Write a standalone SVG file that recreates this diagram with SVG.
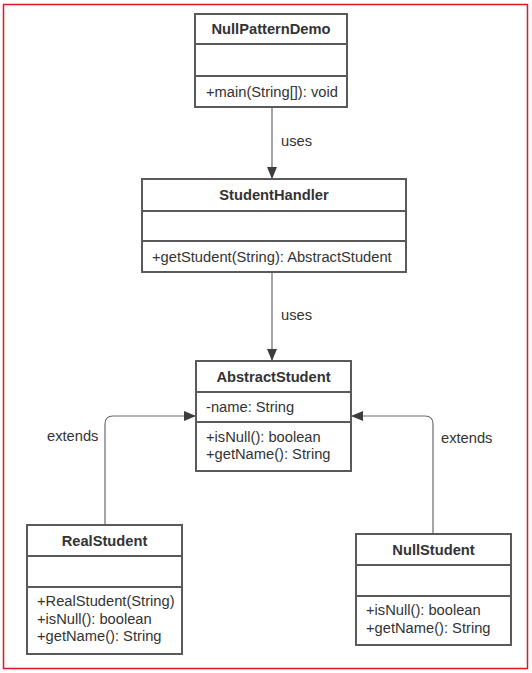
<svg xmlns="http://www.w3.org/2000/svg" width="532" height="673" viewBox="0 0 532 673">
<defs>
<marker id="arr" markerWidth="13" markerHeight="10" refX="12" refY="5" orient="auto" markerUnits="userSpaceOnUse">
<path d="M0,0 L12,5 L0,10 Z" fill="#3d3d3d"/>
</marker>
<style>
.box{fill:#fff;stroke:#5a5a5a;stroke-width:2}
.div{stroke:#5a5a5a;stroke-width:2}
text{font-family:"Liberation Sans",Arial,sans-serif;font-size:14.7px;fill:#333}
.t{font-weight:bold;text-anchor:middle}
.c{fill:none;stroke:#6a6a6a;stroke-width:1.2}
</style>
</defs>
<rect x="3.5" y="4.5" width="524" height="664" fill="#fff" stroke="#e8141b" stroke-width="1.5"/>
<g id="connectors">
<line class="c" x1="272" y1="107" x2="272" y2="179" marker-end="url(#arr)"/>
<line class="c" x1="272" y1="272" x2="272" y2="361" marker-end="url(#arr)"/>
<path class="c" d="M105,525 V424 Q105,416 113,416 H196" marker-end="url(#arr)"/>
<path class="c" d="M433,534 V424 Q433,416 425,416 H351" marker-end="url(#arr)"/>
<text x="281" y="146" fill="#222">uses</text>
<text x="281" y="320" fill="#222">uses</text>
<text x="47" y="441" fill="#222">extends</text>
<text x="441" y="443" fill="#222">extends</text>
</g>
<g id="NullPatternDemo">
<rect class="box" x="195" y="14" width="152" height="93"/>
<line class="div" x1="195" y1="44" x2="347" y2="44"/>
<line class="div" x1="195" y1="76" x2="347" y2="76"/>
<text class="t" x="271" y="34">NullPatternDemo</text>
<text x="206" y="97">+main(String[]): void</text>
</g>
<g id="StudentHandler">
<rect class="box" x="142" y="179" width="264" height="93"/>
<line class="div" x1="142" y1="211" x2="406" y2="211"/>
<line class="div" x1="142" y1="241" x2="406" y2="241"/>
<text class="t" x="274" y="200">StudentHandler</text>
<text x="152" y="262">+getStudent(String): AbstractStudent</text>
</g>
<g id="AbstractStudent">
<rect class="box" x="196" y="361" width="155" height="110"/>
<line class="div" x1="196" y1="392" x2="351" y2="392"/>
<line class="div" x1="196" y1="422" x2="351" y2="422"/>
<text class="t" x="273.5" y="382">AbstractStudent</text>
<text x="206" y="412">-name: String</text>
<text x="206" y="442">+isNull(): boolean</text>
<text x="206" y="459">+getName(): String</text>
</g>
<g id="RealStudent">
<rect class="box" x="27" y="525" width="155" height="129"/>
<line class="div" x1="27" y1="556" x2="182" y2="556"/>
<line class="div" x1="27" y1="587" x2="182" y2="587"/>
<text class="t" x="104.5" y="546">RealStudent</text>
<text x="37" y="606">+RealStudent(String)</text>
<text x="37" y="624">+isNull(): boolean</text>
<text x="37" y="641">+getName(): String</text>
</g>
<g id="NullStudent">
<rect class="box" x="356" y="534" width="155" height="111"/>
<line class="div" x1="356" y1="565" x2="511" y2="565"/>
<line class="div" x1="356" y1="596" x2="511" y2="596"/>
<text class="t" x="433.5" y="555">NullStudent</text>
<text x="366" y="615">+isNull(): boolean</text>
<text x="366" y="633">+getName(): String</text>
</g>
</svg>
